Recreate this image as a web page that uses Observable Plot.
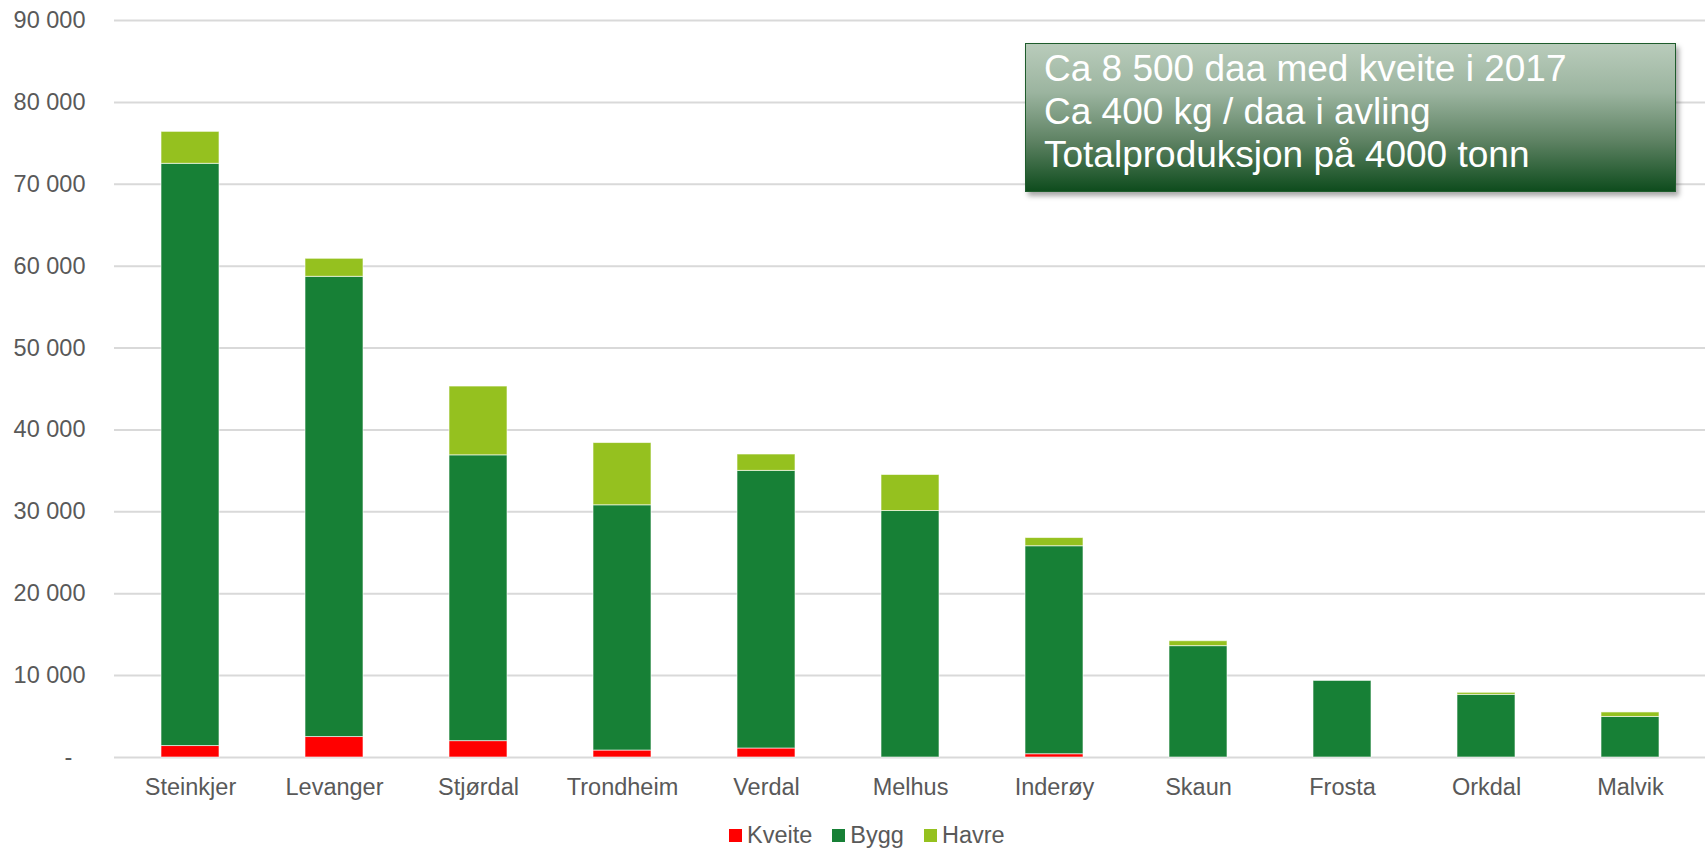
<!DOCTYPE html>
<html>
<head>
<meta charset="utf-8">
<script src="https://cdn.jsdelivr.net/npm/d3@7"></script>
<script src="https://cdn.jsdelivr.net/npm/@observablehq/plot@0.6"></script>
<style>
  html, body { margin: 0; padding: 0; background: #fff; overflow: hidden; }
  #wrap { position: relative; width: 1705px; height: 851px; font-family: "Liberation Sans", Arial, sans-serif; }
  #note {
    position: absolute; left: 1025px; top: 43px; width: 651px; height: 149px;
    box-sizing: border-box; border: 1.5px solid #1e5c2c;
    background: linear-gradient(to bottom, #b9ccbb 0%, #9bb49f 33%, #5e8263 66%, #0e4c1d 100%);
    box-shadow: 3px 4px 5px rgba(0,0,0,0.35);
    color: #fff; font-size: 37px; line-height: 43px; padding: 3px 0 0 18px;
  }
  #legend {
    height: 41px; box-sizing: border-box; padding-top: 10px; padding-left: 729px;
    display: flex; align-items: center; font-size: 23.5px; color: #595959;
  }
  .item { display: flex; align-items: center; margin-right: 20px; }
  .sw { width: 13px; height: 13px; margin-right: 5px; }
</style>
</head>
<body>
<div id="wrap">
  <div id="chart"></div>
  <div id="legend"></div>
  <div id="note"></div>
</div>
<script>
const categories = ["Steinkjer", "Levanger", "Stjørdal", "Trondheim", "Verdal", "Melhus", "Inderøy", "Skaun", "Frosta", "Orkdal", "Malvik"];
const seriesNames = ["Kveite", "Bygg", "Havre"];
const seriesColors = ["#ff0000", "#178036", "#95c11f"];
const kveite = [1400, 2500, 2000, 850, 1100, 0, 400, 0, 0, 0, 0];
const bygg = [71100, 56200, 34900, 29950, 33900, 30100, 25400, 13600, 9350, 7650, 4950];
const havre = [3900, 2200, 8400, 7600, 2000, 4400, 1000, 600, 0, 250, 550];
const yTicks = [0, 10000, 20000, 30000, 40000, 50000, 60000, 70000, 80000, 90000];
const noteLines = ["Ca 8 500 daa med kveite i 2017", "Ca 400 kg / daa i avling", "Totalproduksjon på 4000 tonn"];

const seriesValues = [kveite, bygg, havre];
const rows = [];
categories.forEach((c, i) => {
  seriesNames.forEach((s, j) => rows.push({kommune: c, serie: s, value: seriesValues[j][i]}));
});

const fmt = n => n === 0 ? "-\u2007" : d3.format(",")(n).replace(/,/g, " ");

const chart = Plot.plot({
  width: 1705,
  height: 810,
  marginLeft: 114,
  marginRight: 0,
  marginTop: 20,
  marginBottom: 53,
  style: {fontFamily: "Liberation Sans, Arial, sans-serif", fontSize: "23.5px", color: "#595959", background: "#fff"},
  x: {domain: categories, paddingInner: 0.6, paddingOuter: 0.3, label: null},
  y: {domain: [0, 90000], label: null},
  color: {domain: seriesNames, range: seriesColors},
  marks: [
    Plot.gridY(yTicks, {stroke: "#d9d9d9", strokeOpacity: 1, strokeWidth: 2}),
    Plot.barY(rows, Plot.stackY({order: null}, {x: "kommune", y: "value", fill: "serie", stroke: "#ffffff", strokeWidth: 1, strokeOpacity: 0.6})),
    Plot.axisY(yTicks, {tickSize: 0, tickPadding: 29, tickFormat: fmt, fontSize: 23.5, label: null}),
    Plot.axisX({tickSize: 0, tickPadding: 21, fontSize: 23.5, label: null})
  ]
});
document.getElementById("chart").appendChild(chart);

const legend = document.getElementById("legend");
seriesNames.forEach((s, i) => {
  const it = document.createElement("div");
  it.className = "item";
  const sw = document.createElement("div");
  sw.className = "sw";
  sw.style.background = seriesColors[i];
  const t = document.createElement("span");
  t.textContent = s;
  it.appendChild(sw); it.appendChild(t);
  legend.appendChild(it);
});

const note = document.getElementById("note");
noteLines.forEach(l => {
  const d = document.createElement("div");
  d.textContent = l;
  note.appendChild(d);
});
</script>
</body>
</html>
